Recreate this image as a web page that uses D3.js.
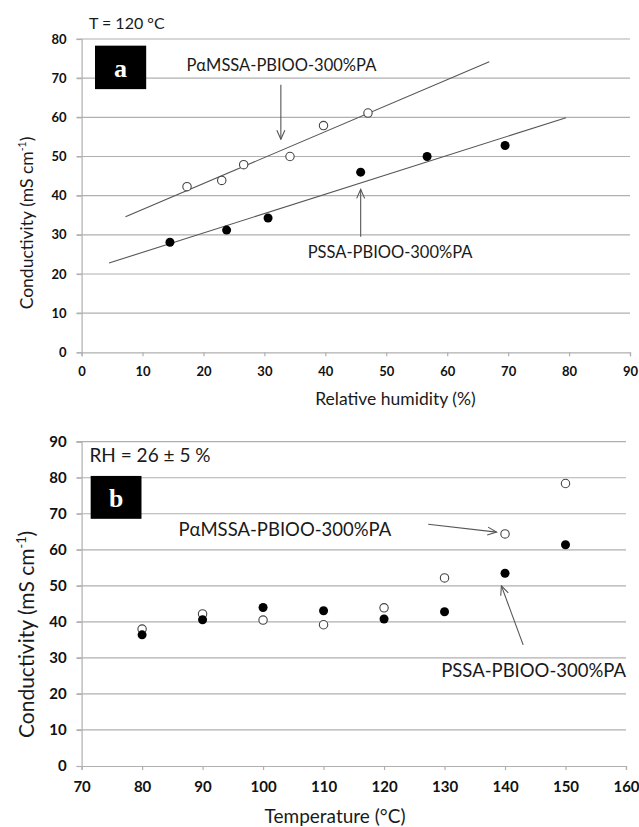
<!DOCTYPE html>
<html>
<head>
<meta charset="utf-8">
<script src="https://cdn.jsdelivr.net/npm/d3@7"></script>
<style>
  body { margin: 0; background: #fff; }
  text { font-family: Lato, "Open Sans", sans-serif; fill: #1a1a1a; }
  .tick text { font-weight: bold; fill: #111; }
</style>
</head>
<body>
<svg id="chart" width="639" height="827"></svg>
<script>
// panel a: T = 120 °C, conductivity against relative humidity
const rhTicks = [0, 10, 20, 30, 40, 50, 60, 70, 80, 90];
const condTicksA = [0, 10, 20, 30, 40, 50, 60, 70, 80];
const rhAlpha = [17.3, 23.0, 26.6, 34.2, 39.7, 47.0];
const condAlphaA = [42.3, 43.9, 47.9, 50.0, 57.9, 61.1];
const rhPssa = [14.5, 23.8, 30.6, 45.8, 56.7, 69.5];
const condPssaA = [28.1, 31.2, 34.3, 46.0, 50.0, 52.8];
// linear fits, end points
const fitAlpha = [[7.2, 34.6], [66.9, 74.2]];
const fitPssa = [[4.5, 22.8], [79.5, 59.9]];

// panel b: RH = 26 ± 5 %, conductivity against temperature
const tempTicks = [70, 80, 90, 100, 110, 120, 130, 140, 150, 160];
const condTicksB = [0, 10, 20, 30, 40, 50, 60, 70, 80, 90];
const temps = [80, 90, 100, 110, 120, 130, 140, 150];
const condAlphaB = [38.0, 42.2, 40.5, 39.2, 43.9, 52.2, 64.4, 78.4];
const condPssaB = [36.4, 40.6, 44.0, 43.1, 40.8, 42.8, 53.5, 61.4];

const labelAlpha = 'PαMSSA-PBIOO-300%PA';
const labelPssa = 'PSSA-PBIOO-300%PA';

const svg = d3.select('#chart');
svg.append('defs').append('marker')
  .attr('id', 'head')
  .attr('viewBox', '-10 -5 11 10')
  .attr('markerWidth', 11).attr('markerHeight', 10)
  .attr('markerUnits', 'userSpaceOnUse')
  .attr('orient', 'auto')
  .append('path')
  .attr('d', 'M-9,-4L0,0L-9,4')
  .attr('fill', 'none')
  .attr('stroke', '#555')
  .attr('stroke-width', 1.1);

const panels = [
  {
    x: d3.scaleLinear().domain([0, 90]).range([81.6, 630]),
    y: d3.scaleLinear().domain([0, 80]).range([352.3, 39]),
    xTicks: rhTicks, yTicks: condTicksA,
    tickSize: 13, tickPad: 11,
    fit: [fitAlpha, fitPssa],
    open: d3.zip(rhAlpha, condAlphaA),
    filled: d3.zip(rhPssa, condPssaA),
    xTitle: 'Relative humidity (%)', xTitleAt: [51.5, 405], titleSize: 17.5, xTitleSize: 17.5,
    yTitleAt: 223, yTitleX: 33,
    note: 'T = 120 °C', noteAt: [1.2, 29], noteSize: 16,
    box: [2.2, 10.6, 78.3, 67.2], letter: 'a',
    texts: [
      { t: labelAlpha, at: [17.2, 71.8], size: 16.5 },
      { t: labelPssa, at: [37.1, 24.1], size: 16.5 }
    ],
    arrows: [
      [[32.7, 68.3], [32.7, 54.4]],
      [[45.8, 29.5], [45.8, 41.6]]
    ]
  },
  {
    x: d3.scaleLinear().domain([70, 160]).range([81.6, 626]),
    y: d3.scaleLinear().domain([0, 90]).range([766, 441.7]),
    xTicks: tempTicks, yTicks: condTicksB,
    tickSize: 15, tickPad: 12,
    fit: [],
    open: d3.zip(temps, condAlphaB),
    filled: d3.zip(temps, condPssaB),
    xTitle: 'Temperature (°C)', xTitleAt: [111.9, 823], titleSize: 21, xTitleSize: 19,
    yTitleAt: 634.5, yTitleX: 34,
    note: 'RH = 26 ± 5 %', noteAt: [71.3, 462], noteSize: 19,
    box: [71.5, 79.9, 80.5, 68.6], letter: 'b',
    texts: [
      { t: labelAlpha, at: [86.0, 63.8], size: 18.5 },
      { t: labelPssa, at: [160, 24.7], size: 18.5, anchor: 'end' }
    ],
    arrows: [
      [[127.3, 67.1], [138.6, 64.9]],
      [[143.0, 33.6], [139.4, 50.0]]
    ]
  }
];

function drawPanel (p) {
  const g = svg.append('g');
  const [x0, x1] = p.x.range();
  const yb = p.y.range()[0];

  // horizontal grid
  g.append('g').selectAll('line')
    .data(p.yTicks.filter(d => d !== 0))
    .join('line')
    .attr('x1', x0 - 5).attr('x2', x1)
    .attr('y1', d => p.y(d)).attr('y2', d => p.y(d))
    .attr('stroke', '#b0b0b0').attr('stroke-width', 1.2);

  const yAxis = g.append('g')
    .attr('transform', `translate(${x0},0)`)
    .call(d3.axisLeft(p.y).tickValues(p.yTicks).tickSize(5).tickPadding(10));
  const xAxis = g.append('g')
    .attr('transform', `translate(0,${yb})`)
    .call(d3.axisBottom(p.x).tickValues(p.xTicks).tickSize(4).tickPadding(p.tickPad - 1));
  [xAxis, yAxis].forEach(a => {
    a.select('.domain').attr('stroke', '#b0b0b0').attr('stroke-width', 1.2);
    a.selectAll('.tick line').attr('stroke', '#b0b0b0').attr('stroke-width', 1.2);
    a.selectAll('.tick text').attr('font-size', p.tickSize);
  });

  // trend lines
  const line = d3.line().x(d => p.x(d[0])).y(d => p.y(d[1]));
  g.selectAll('.fit').data(p.fit).join('path')
    .attr('class', 'fit')
    .attr('d', line)
    .attr('fill', 'none').attr('stroke', '#555').attr('stroke-width', 1.1);

  g.selectAll('.open').data(p.open).join('circle')
    .attr('class', 'open')
    .attr('cx', d => p.x(d[0])).attr('cy', d => p.y(d[1]))
    .attr('r', 4.2).attr('fill', '#fff').attr('stroke', '#444').attr('stroke-width', 1.1);
  g.selectAll('.filled').data(p.filled).join('circle')
    .attr('class', 'filled')
    .attr('cx', d => p.x(d[0])).attr('cy', d => p.y(d[1]))
    .attr('r', 4.5).attr('fill', '#000');

  g.selectAll('.arrow').data(p.arrows).join('path')
    .attr('class', 'arrow')
    .attr('d', line)
    .attr('stroke', '#555').attr('stroke-width', 1.1)
    .attr('marker-end', 'url(#head)');

  g.selectAll('.label').data(p.texts).join('text')
    .attr('class', 'label')
    .attr('x', d => p.x(d.at[0])).attr('y', d => p.y(d.at[1]))
    .attr('text-anchor', d => d.anchor || 'start')
    .attr('font-size', d => d.size)
    .text(d => d.t);

  g.append('text')
    .attr('x', p.x(p.noteAt[0])).attr('y', p.noteAt[1])
    .attr('font-size', p.noteSize)
    .text(p.note);

  // black tag with the panel letter
  const bx = p.x(p.box[0]), by = p.y(p.box[2]);
  const bw = p.x(p.box[1]) - bx, bh = p.y(p.box[3]) - by;
  g.append('rect')
    .attr('x', bx).attr('y', by).attr('width', bw).attr('height', bh)
    .attr('fill', '#000');
  g.append('text')
    .attr('x', bx + bw / 2).attr('y', by + bh * 0.72)
    .attr('text-anchor', 'middle')
    .style('font-family', '"Liberation Serif", "DejaVu Serif", serif')
    .style('font-weight', 'bold')
    .style('fill', '#fff')
    .attr('font-size', bh * 0.6)
    .text(p.letter);

  g.append('text')
    .attr('x', p.x(p.xTitleAt[0])).attr('y', p.xTitleAt[1])
    .attr('text-anchor', 'middle')
    .attr('font-size', p.xTitleSize)
    .text(p.xTitle);

  const yTitle = g.append('text')
    .attr('transform', `translate(${p.yTitleX},${p.yTitleAt}) rotate(-90)`)
    .attr('text-anchor', 'middle')
    .attr('font-size', p.titleSize);
  yTitle.append('tspan').text('Conductivity (mS cm');
  yTitle.append('tspan').attr('dy', -p.titleSize * 0.4).attr('font-size', p.titleSize * 0.6).text('-1');
  yTitle.append('tspan').attr('dy', p.titleSize * 0.4).text(')');
}

panels.forEach(drawPanel);
</script>
</body>
</html>
